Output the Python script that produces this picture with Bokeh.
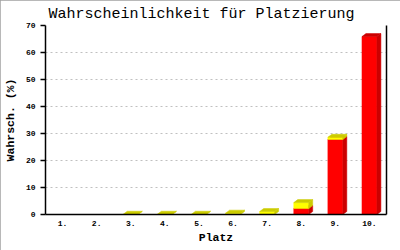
from bokeh.plotting import figure
from bokeh.models import FixedTicker, LinearAxis, Range1d, ColumnDataSource
from bokeh.embed import file_html
from bokeh.resources import INLINE

categories = ["1.", "2.", "3.", "4.", "5.", "6.", "7.", "8.", "9.", "10."]
red_values = [0, 0, 0, 0, 0, 0, 0, 2.2, 27.8, 65.9]
yellow_values = [0, 0, 0.1, 0.1, 0.1, 0.5, 1.1, 2.2, 0.8, 0]
y_ticks = [0, 10, 20, 30, 40, 50, 60, 70]

FONT = "Liberation Mono"

p = figure(width=400, height=250, output_backend="svg", toolbar_location=None,
           x_range=Range1d(0.5, 10.5), y_range=Range1d(0, 70),
           min_border_left=43, min_border_right=14, min_border_top=25, min_border_bottom=36,
           title="Wahrscheinlichkeit für Platzierung")
p.title.text_font = FONT
p.title.text_font_size = "15px"
p.title.text_font_style = "normal"
p.title.text_color = "black"
p.title.align = "left"
p.title.offset = 3
p.title.standoff = 6
p.outline_line_color = None
p.background_fill_color = "white"
p.border_fill_color = "white"
p.styles = {"outline": "2px solid #a0a0a0", "outline-offset": "-2px"}

# pixel-based 3D depth converted to data units
px_x = 342 / 10.0
px_y = 189 / 70.0
w = 7.5 / px_x
dx = 4 / px_x
dy = 3 / px_y

xs, ys, cols = [], [], []
for i in range(len(categories)):
    bottom = 0.0
    for vals, front, dark in ((red_values, "#ff0000", "#cc0000"), (yellow_values, "#ffff00", "#cccc00")):
        v = vals[i]
        if v <= 0:
            continue
        y0, y1 = bottom, bottom + v
        xc = i + 1
        x0, x1 = xc - w, xc + w
        xs.append([x0, x1, x1, x0]); ys.append([y0, y0, y1, y1]); cols.append(front)
        xs.append([x0, x1, x1 + dx, x0 + dx]); ys.append([y1, y1, y1 + dy, y1 + dy]); cols.append(dark)
        xs.append([x1, x1 + dx, x1 + dx, x1]); ys.append([y0, y0 + dy, y1 + dy, y1]); cols.append(dark)
        bottom = y1

src = ColumnDataSource(dict(xs=xs, ys=ys, c=cols))
p.patches("xs", "ys", source=src, fill_color="c", line_color="c", line_width=0.5)

# axes
p.xaxis.ticker = FixedTicker(ticks=list(range(1, len(categories) + 1)))
p.xaxis.major_label_overrides = {i + 1: c for i, c in enumerate(categories)}
p.xaxis.major_tick_line_color = None
p.xaxis.minor_tick_line_color = None
p.xaxis.major_tick_out = 0
p.xaxis.major_tick_in = 0
p.xaxis.axis_label = "Platz"
p.yaxis.ticker = FixedTicker(ticks=y_ticks)
p.yaxis.minor_tick_line_color = None
p.yaxis.major_tick_in = 0
p.yaxis.major_tick_out = 5
p.yaxis.axis_label = "Wahrsch. (%)"
for ax in (p.xaxis[0], p.yaxis[0]):
    ax.axis_line_color = "black"
    ax.axis_line_width = 1.5
    ax.major_tick_line_width = 1.5
    ax.major_label_text_font = FONT
    ax.major_label_text_font_size = "8px"
    ax.major_label_text_font_style = "bold"
    ax.major_label_text_color = "black"
    ax.axis_label_text_font = FONT
    ax.axis_label_text_font_size = "11.5px"
    ax.axis_label_text_font_style = "bold"
    ax.axis_label_text_color = "black"
p.xaxis.major_label_standoff = 6
p.xaxis.axis_label_standoff = 2
p.yaxis.major_label_standoff = 5
p.yaxis.axis_label_standoff = 6

right = LinearAxis(ticker=FixedTicker(ticks=[]), axis_line_color="black", axis_line_width=1.5,
                   major_tick_line_color=None, minor_tick_line_color=None,
                   major_tick_in=0, major_tick_out=0, major_label_standoff=0,
                   major_label_text_font_size="0px")
p.add_layout(right, "right")

p.xgrid.grid_line_color = None
p.ygrid.ticker = FixedTicker(ticks=y_ticks)
p.ygrid.grid_line_color = "#c0c0c0"
p.ygrid.grid_line_dash = "2 3"

open("out.html", "w").write(file_html(p, INLINE))
